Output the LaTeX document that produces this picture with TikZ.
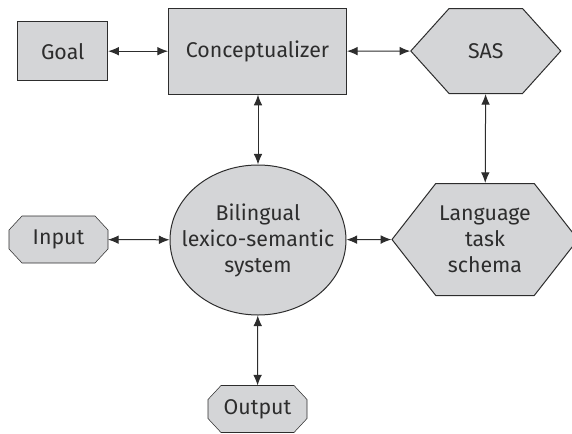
\documentclass[tikz,border=0pt]{standalone}
\usepackage{fontspec}
\setmainfont{Fira Sans}
\usetikzlibrary{shapes.geometric,shapes.symbols,arrows.meta,calc,backgrounds}

\definecolor{boxfill}{RGB}{212,213,215}
\definecolor{boxline}{RGB}{45,45,45}

\tikzset{every picture/.style={line width=0.75pt}}
\tikzset{
  lbl/.style={text=boxline, font=\fontsize{16}{19.5}\selectfont, align=center, inner sep=0pt},
  blk/.style={lbl, draw=boxline, fill=boxfill},
  rectblk/.style={blk, rectangle},
  hexblk/.style={blk, signal, signal to=east and west},
  octblk/.style={lbl, rectangle, minimum width=73.5pt, minimum height=34.5pt},
  link/.style={draw=boxline, {Latex[length=8pt,width=6.5pt]}-{Latex[length=8pt,width=6.5pt]}}
}

\begin{document}
\begin{tikzpicture}[x=0.75pt,y=0.75pt,yscale=-1,xscale=1]
\useasboundingbox (0,0) rectangle (572,433);

%Shape: Rectangle [id:goal]
\node [rectblk, minimum width=67.5pt, minimum height=44.25pt] (goal) at (62.7,51.2) {Goal};
%Shape: Rectangle [id:concept]
\node [rectblk, minimum width=133.5pt, minimum height=64.5pt] (concept) at (257.5,51.2) {Conceptualizer};
%Shape: Hexagon [id:sas]
\node [hexblk, signal pointer angle=96, minimum width=112.5pt, minimum height=63.75pt] (sas) at (485.8,51) {SAS};

%Shape: Ellipse [id:lexsem]
\node [blk, ellipse, minimum width=132pt, minimum height=112.5pt] (lexsem) at (258,240) {};
\node [lbl] (lexsemtext) at (lexsem) {Bilingual\\lexico-semantic\\system};
%Shape: Octagon [id:input]
\node [octblk] (input) at (58.5,239.5) {Input};
%Shape: Hexagon [id:task]
\node [hexblk, signal pointer angle=104, minimum width=139.5pt, minimum height=84pt] (task) at (485,239.5) {Language\\task\\schema};

%Shape: Octagon [id:output]
\node [octblk] (output) at (257.5,409) {Output};

%Octagon outlines
\begin{scope}[on background layer]
\foreach \n in {input,output}
  \draw [draw=boxline, fill=boxfill] ($(\n.north west)+(13,0)$) -- ($(\n.north east)+(-13,0)$) -- ($(\n.north east)+(0,14)$) -- ($(\n.south east)+(0,-14)$) -- ($(\n.south east)+(-13,0)$) -- ($(\n.south west)+(13,0)$) -- ($(\n.south west)+(0,-14)$) -- ($(\n.north west)+(0,14)$) -- cycle;
\end{scope}

%Straight Lines
\draw [link] (goal) -- (concept);
\draw [link] (concept) -- (sas);
\draw [link] (concept.south -| lexsem) -- (lexsem.north);
\draw [link] (sas) -- (task);
\draw [link] (input) -- (lexsem);
\draw [link] (lexsem) -- (task.west);
\draw [link] (lexsem) -- (output);
\end{tikzpicture}
\end{document}
